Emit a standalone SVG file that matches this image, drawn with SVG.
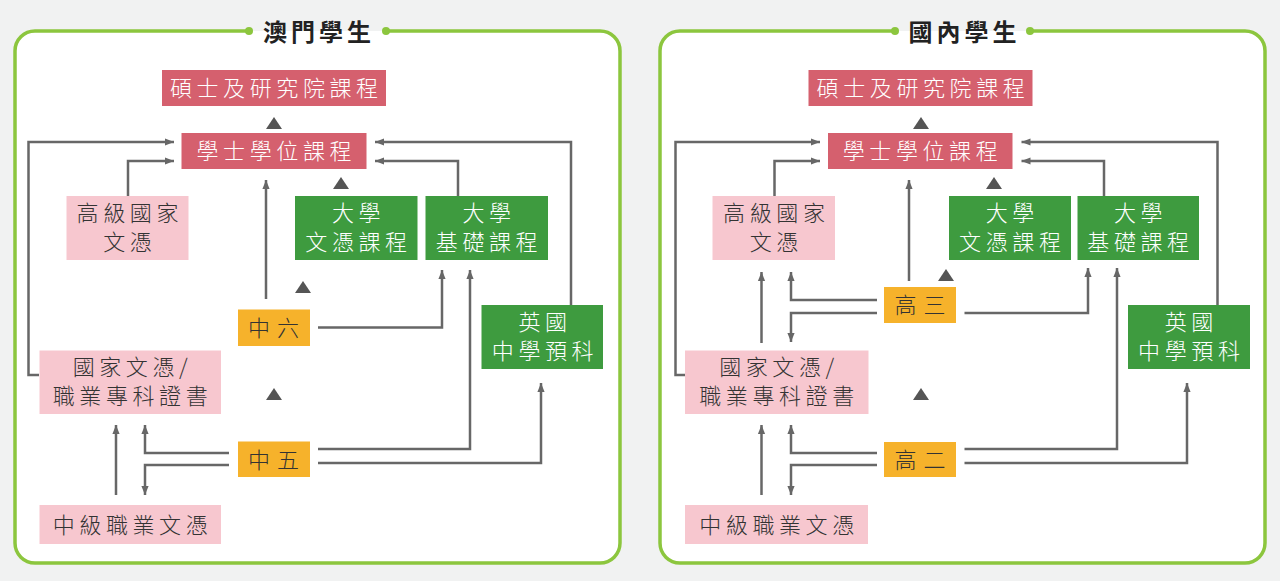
<svg xmlns="http://www.w3.org/2000/svg" width="1280" height="581" viewBox="0 0 1280 581">
<style>
text{font-family:"Noto Sans CJK TC","Noto Sans CJK SC",sans-serif;font-size:22px;font-weight:300;letter-spacing:4.6px;text-anchor:middle}
.title{font-size:24px;font-weight:bold;fill:#222;letter-spacing:4px}
.red rect{fill:#d5606e}.red text{fill:#fff}
.pink rect{fill:#f7c7cf}.pink text{fill:#333}
.green rect{fill:#3e9b3f}.green text{fill:#fff}
.orange rect{fill:#f6b22b}.orange text{fill:#333}
.frame{fill:none;stroke:#8cc63e;stroke-width:3.5}
.dot{fill:#8cc63e}
.conn path{fill:none;stroke:#676767;stroke-width:2.5;marker-end:url(#ah)}
.tri{fill:#555}
</style>
<defs>
<marker id="ah" viewBox="0 0 10 10" refX="10" refY="5" markerWidth="9" markerHeight="9" markerUnits="userSpaceOnUse" orient="auto"><path d="M0,1 L10,5 L0,9 z" fill="#676767"/></marker>
</defs>
<rect width="1280" height="581" fill="#f1f2f2"/>
<g id="panel-macau">
<rect x="15" y="31" width="605" height="532" rx="20" fill="#fff"/>
<path class="frame" d="M249,31 H35 A20,20 0 0 0 15,51 V543 A20,20 0 0 0 35,563 H600 A20,20 0 0 0 620,543 V51 A20,20 0 0 0 600,31 H386"/>
<circle class="dot" cx="249" cy="31" r="4"/><circle class="dot" cx="386" cy="31" r="4"/>
<text class="title" x="319" y="41">澳門學生</text>
</g>
<g id="panel-mainland">
<rect x="660" y="31" width="605" height="532" rx="20" fill="#fff"/>
<path class="frame" d="M895,31 H680 A20,20 0 0 0 660,51 V543 A20,20 0 0 0 680,563 H1245 A20,20 0 0 0 1265,543 V51 A20,20 0 0 0 1245,31 H1030"/>
<circle class="dot" cx="895" cy="31" r="4"/><circle class="dot" cx="1030" cy="31" r="4"/>
<text class="title" x="964.5" y="41">國內學生</text>
</g>

<g id="connectors-left" class="conn">
<path d="M39,375 H28.5 V142 H174"/>
<path d="M128,196 V161 H174"/>
<path d="M571,305 V142 H375"/>
<path d="M458,196 V161 H375"/>
<path d="M266,299 V180"/>
<path d="M318,327.5 H442 V270"/>
<path d="M318,449 H470 V270"/>
<path d="M318,463 H541 V383"/>
<path d="M229,453 H145 V425"/>
<path d="M229,465 H145 V495"/>
<path d="M116,495 V425"/>
</g>
<g id="connectors-right" class="conn">
<path d="M685,375 H675.5 V142 H820"/>
<path d="M774.5,196 V161 H820"/>
<path d="M1217.5,305 V142 H1021.5"/>
<path d="M1104,196 V161 H1021.5"/>
<path d="M909,281 V180"/>
<path d="M964.5,313 H1088 V268"/>
<path d="M964.5,449 H1117 V268"/>
<path d="M964.5,463 H1187 V383"/>
<path d="M877,300 H791 V272"/>
<path d="M877,313 H791 V342"/>
<path d="M761.5,343 V272"/>
<path d="M877,453 H791 V425"/>
<path d="M877,465 H791 V495"/>
<path d="M761.5,495 V425"/>
</g>
<g id="triangles">
<path class="tri" d="M274,117 L282,129 L266,129 z"/>
<path class="tri" d="M341,177 L349,189 L333,189 z"/>
<path class="tri" d="M303,281 L311,293 L295,293 z"/>
<path class="tri" d="M274,388 L282,400 L266,400 z"/>
<path class="tri" d="M921,117 L929,129 L913,129 z"/>
<path class="tri" d="M994,177 L1002,189 L986,189 z"/>
<path class="tri" d="M946,269 L954,281 L938,281 z"/>
<path class="tri" d="M921,388 L929,400 L913,400 z"/>
</g>

<g id="L-master" class="red"><rect x="162" y="70" width="224" height="36"/><text x="276.3" y="96">碩士及研究院課程</text></g>
<g id="L-bachelor" class="red"><rect x="181.5" y="133" width="185" height="36"/><text x="276.3" y="159">學士學位課程</text></g>
<g id="L-hnd" class="pink"><rect x="66.5" y="196" width="122" height="64"/><text x="129.8" y="221">高級國家</text><text x="129.8" y="250">文憑</text></g>
<g id="L-udip" class="green"><rect x="295" y="196" width="122.5" height="64"/><text x="358.5" y="221">大學</text><text x="358.5" y="250">文憑課程</text></g>
<g id="L-ufound" class="green"><rect x="425.5" y="196" width="122.5" height="64"/><text x="489" y="221">大學</text><text x="489" y="250">基礎課程</text></g>
<g id="L-f6" class="orange"><rect x="238" y="309.5" width="72" height="36.5"/><text x="277" y="335.5" style="letter-spacing:7px">中六</text></g>
<g id="L-alevel" class="green"><rect x="481.5" y="305" width="121.5" height="64"/><text x="545" y="330">英國</text><text x="545" y="359">中學預科</text></g>
<g id="L-nd" class="pink"><rect x="39.5" y="350.5" width="181.5" height="63.5"/><text x="132.5" y="375">國家文憑/</text><text x="132.5" y="404">職業專科證書</text></g>
<g id="L-f5" class="orange"><rect x="238" y="441.5" width="72" height="35.5"/><text x="277" y="467.5" style="letter-spacing:7px">中五</text></g>
<g id="L-ivd" class="pink"><rect x="39.5" y="505" width="181.5" height="39"/><text x="132.5" y="532.5">中級職業文憑</text></g>

<g id="R-master" class="red"><rect x="808.5" y="70" width="224" height="36"/><text x="923" y="96">碩士及研究院課程</text></g>
<g id="R-bachelor" class="red"><rect x="828" y="133" width="184.5" height="36"/><text x="922.5" y="159">學士學位課程</text></g>
<g id="R-hnd" class="pink"><rect x="712.5" y="196" width="122.5" height="64"/><text x="776.3" y="221">高級國家</text><text x="776.3" y="250">文憑</text></g>
<g id="R-udip" class="green"><rect x="949" y="196" width="122" height="64"/><text x="1012.3" y="221">大學</text><text x="1012.3" y="250">文憑課程</text></g>
<g id="R-ufound" class="green"><rect x="1077.5" y="196" width="121.5" height="64"/><text x="1140.5" y="221">大學</text><text x="1140.5" y="250">基礎課程</text></g>
<g id="R-g3" class="orange"><rect x="884" y="287" width="72" height="36"/><text x="923.5" y="313" style="letter-spacing:7px">高三</text></g>
<g id="R-alevel" class="green"><rect x="1128" y="305" width="122" height="64"/><text x="1191.3" y="330">英國</text><text x="1191.3" y="359">中學預科</text></g>
<g id="R-nd" class="pink"><rect x="685" y="350.5" width="183.5" height="63.5"/><text x="779" y="375">國家文憑/</text><text x="779" y="404">職業專科證書</text></g>
<g id="R-g2" class="orange"><rect x="884" y="442" width="72" height="35"/><text x="923.5" y="467.5" style="letter-spacing:7px">高二</text></g>
<g id="R-ivd" class="pink"><rect x="685" y="505" width="183" height="39"/><text x="779" y="532.5">中級職業文憑</text></g>
</svg>
